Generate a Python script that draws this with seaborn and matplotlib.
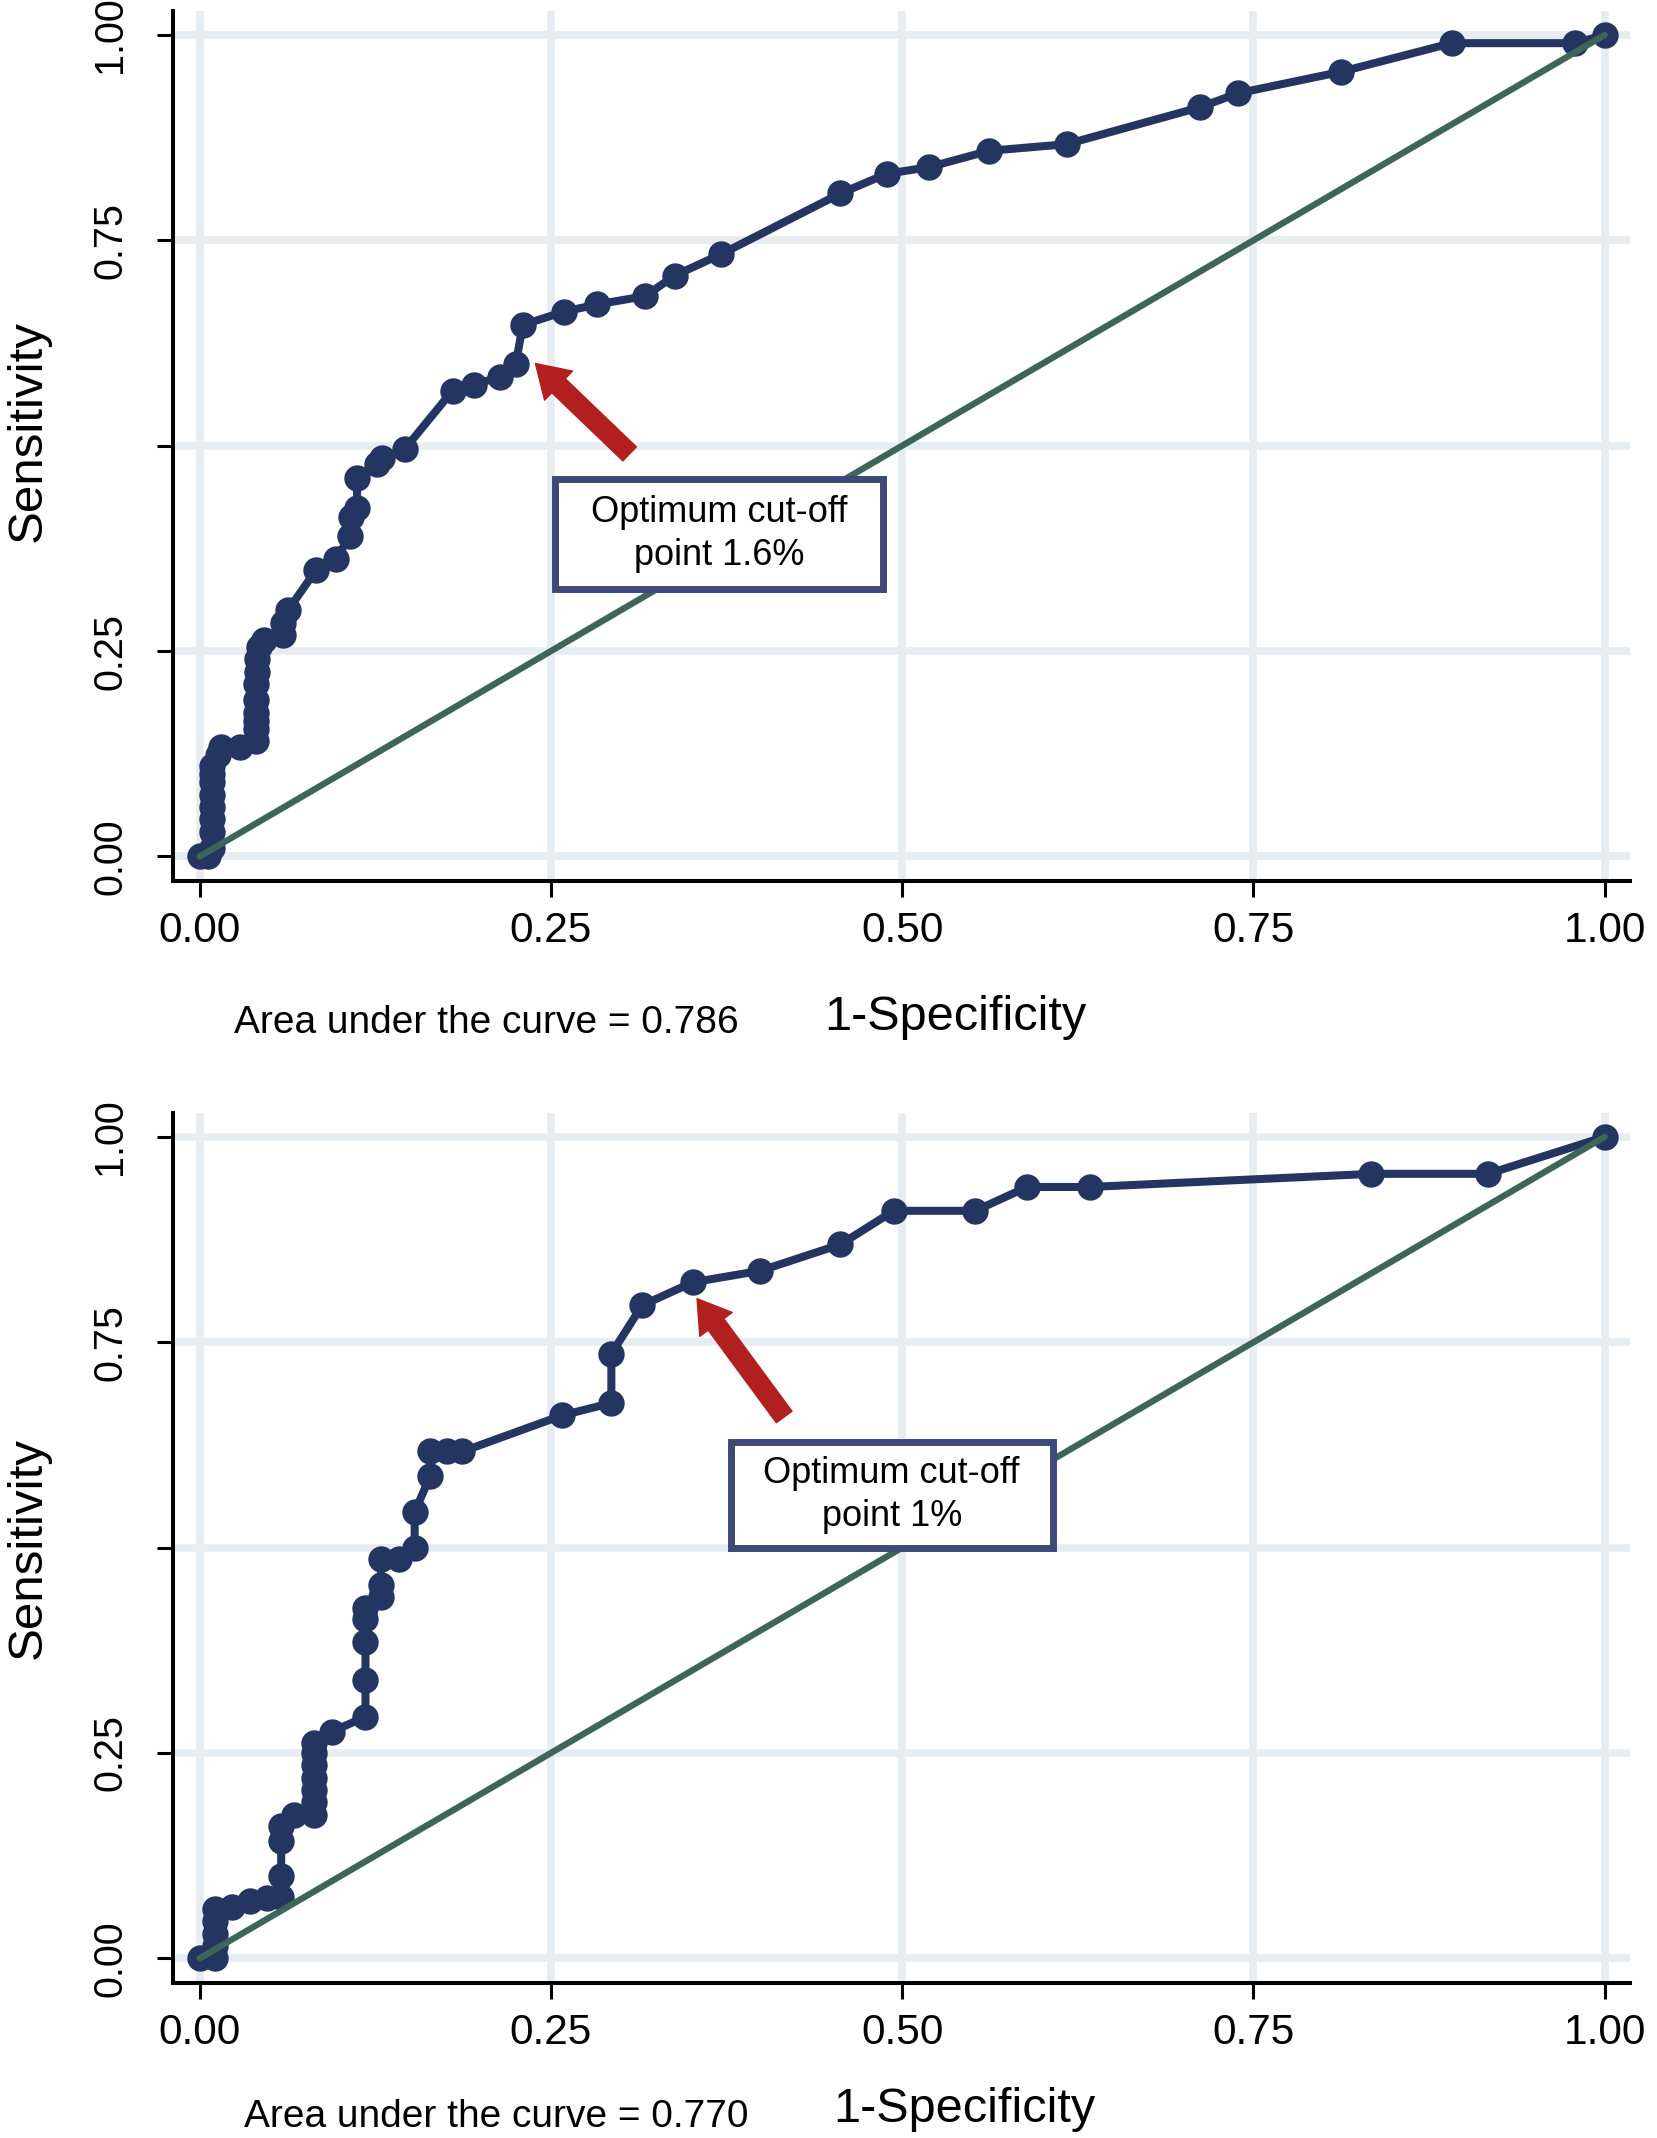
import matplotlib as mpl
import matplotlib.pyplot as plt
import seaborn as sns
import pandas as pd
from matplotlib.patches import FancyArrowPatch, Rectangle

# ROC points
top_fpr = [0, 0.006, 0.009, 0.009, 0.009, 0.009, 0.009, 0.009, 0.009, 0.009, 0.013, 0.015,
           0.029, 0.040, 0.040, 0.040, 0.040, 0.040, 0.040, 0.041, 0.041, 0.042, 0.046,
           0.059, 0.059, 0.063, 0.083, 0.097, 0.107, 0.108, 0.112, 0.112, 0.126, 0.130,
           0.146, 0.180, 0.195, 0.214, 0.225, 0.230, 0.259, 0.283, 0.317, 0.338, 0.371,
           0.456, 0.489, 0.519, 0.562, 0.617, 0.712, 0.739, 0.812, 0.891, 0.979, 1.0]
top_tpr = [0, 0, 0.010, 0.030, 0.045, 0.060, 0.075, 0.090, 0.100, 0.110, 0.123, 0.133,
           0.133, 0.140, 0.155, 0.165, 0.175, 0.190, 0.210, 0.225, 0.240, 0.255, 0.263,
           0.270, 0.284, 0.300, 0.349, 0.362, 0.390, 0.413, 0.424, 0.461, 0.478, 0.485,
           0.496, 0.567, 0.574, 0.584, 0.600, 0.647, 0.663, 0.672, 0.682, 0.707, 0.733,
           0.807, 0.831, 0.839, 0.859, 0.867, 0.912, 0.929, 0.955, 0.990, 0.990, 1.0]

bottom_fpr = [0, 0.011, 0.011, 0.011, 0.011, 0.011, 0.023, 0.036, 0.048, 0.058, 0.058, 0.058,
              0.058, 0.067, 0.0815, 0.0815, 0.0815, 0.0815, 0.0815, 0.0815, 0.0815, 0.094,
              0.118, 0.118, 0.118, 0.118, 0.118, 0.129, 0.129, 0.129, 0.142, 0.153, 0.153,
              0.164, 0.164, 0.176, 0.187, 0.258, 0.293, 0.293, 0.315, 0.351, 0.399, 0.456,
              0.494, 0.552, 0.589, 0.634, 0.834, 0.917, 1.0]
bottom_tpr = [0, 0, 0.015, 0.030, 0.045, 0.060, 0.063, 0.070, 0.073, 0.075, 0.100, 0.143,
              0.161, 0.175, 0.175, 0.190, 0.205, 0.220, 0.235, 0.250, 0.262, 0.276,
              0.294, 0.339, 0.385, 0.413, 0.427, 0.440, 0.455, 0.486, 0.486, 0.500, 0.543,
              0.587, 0.617, 0.617, 0.617, 0.661, 0.676, 0.736, 0.795, 0.823, 0.837, 0.869,
              0.910, 0.910, 0.939, 0.939, 0.955, 0.955, 1.0]

auc_values = ["0.786", "0.770"]
cutoff_labels = ["Optimum cut-off\npoint 1.6%", "Optimum cut-off\npoint 1%"]
tick_values = [0, 0.25, 0.5, 0.75, 1.0]
x_ticklabels = ["0.00", "0.25", "0.50", "0.75", "1.00"]
y_ticklabels = ["0.00", "0.25", "", "0.75", "1.00"]

NAVY = "#243561"
GREEN = "#3e6658"
RED = "#b21f1f"
BOXEDGE = "#3b4a78"
GRID = "#e6ecf0"

sns.set_style("ticks")
mpl.rc('font', family=['Liberation Sans', 'DejaVu Sans'])
mpl.rc('text', color='black')

fig = plt.figure(figsize=(16.57, 21.38), dpi=100)

# per panel layout: axes bottom, arrow (tail, tip), box (x0, y0, w, h), label y positions
layout = [
    dict(bottom=0.5879, tail=(0.306, 0.490), tip=(0.239, 0.600),
         box=(0.253, 0.325, 0.233, 0.134), xlab_y=0.5243, auc_y=0.5215, ylab_y=0.7984),
    dict(bottom=0.0725, tail=(0.416, 0.659), tip=(0.354, 0.803),
         box=(0.378, 0.499, 0.229, 0.130), xlab_y=0.0131, auc_y=0.0098, ylab_y=0.276),
]
curves = [(top_fpr, top_tpr), (bottom_fpr, bottom_tpr)]

for i, (fpr, tpr) in enumerate(curves):
    L = layout[i]
    ax = fig.add_axes([0.1044, L["bottom"], 0.8793, 0.4069])
    df = pd.DataFrame({"fpr": fpr, "tpr": tpr})
    sns.lineplot(data=df, x="fpr", y="tpr", estimator=None, sort=False, color=NAVY,
                 lw=5.8, marker="o", markersize=19, markeredgewidth=0, ax=ax, zorder=3)
    sns.lineplot(x=[0, 1], y=[0, 1], color=GREEN, lw=4.6, ax=ax, zorder=4)

    ax.set_xlim(-0.019, 1.018)
    ax.set_ylim(-0.030, 1.029)
    ax.set_xticks(tick_values)
    ax.set_xticklabels(x_ticklabels)
    ax.set_yticks(tick_values)
    ax.set_yticklabels(y_ticklabels, rotation=90, va="center", ha="right")
    ax.set_xlabel("")
    ax.set_ylabel("")
    ax.grid(True, color=GRID, lw=5.5)
    ax.set_axisbelow(True)
    for s in ["top", "right"]:
        ax.spines[s].set_visible(False)
    for s in ["left", "bottom"]:
        ax.spines[s].set_linewidth(2.9)
        ax.spines[s].set_color("black")
    ax.tick_params(direction="out", length=11.5, width=2.2, colors="black")
    ax.tick_params(axis="x", pad=10, labelsize=30.5)
    ax.tick_params(axis="y", pad=20, labelsize=28.5)

    arr = FancyArrowPatch(L["tail"], L["tip"],
                          arrowstyle="simple,head_length=23,head_width=29,tail_width=14",
                          mutation_scale=1, color=RED, shrinkA=0, shrinkB=0, zorder=5)
    ax.add_patch(arr)
    bx, by, bw, bh = L["box"]
    ax.add_patch(Rectangle((bx, by), bw, bh, fc="white", ec=BOXEDGE, lw=5, zorder=6))
    ax.text(bx + bw / 2, by + bh / 2, cutoff_labels[i], ha="center", va="center",
            fontsize=26, linespacing=1.3, color="black", zorder=7)

    fig.text(0.5763 + (0.0055 if i else 0), L["xlab_y"], "1-Specificity", fontsize=35,
             ha="center", va="center")
    fig.text(0.2933 + (0.006 if i else 0), L["auc_y"], "Area under the curve = " + auc_values[i],
             fontsize=28, ha="center", va="center")
    fig.text(0.0169, L["ylab_y"], "Sensitivity", fontsize=35.5, rotation=90,
             ha="center", va="center")

plt.savefig("out.png", dpi=100)
plt.close()
